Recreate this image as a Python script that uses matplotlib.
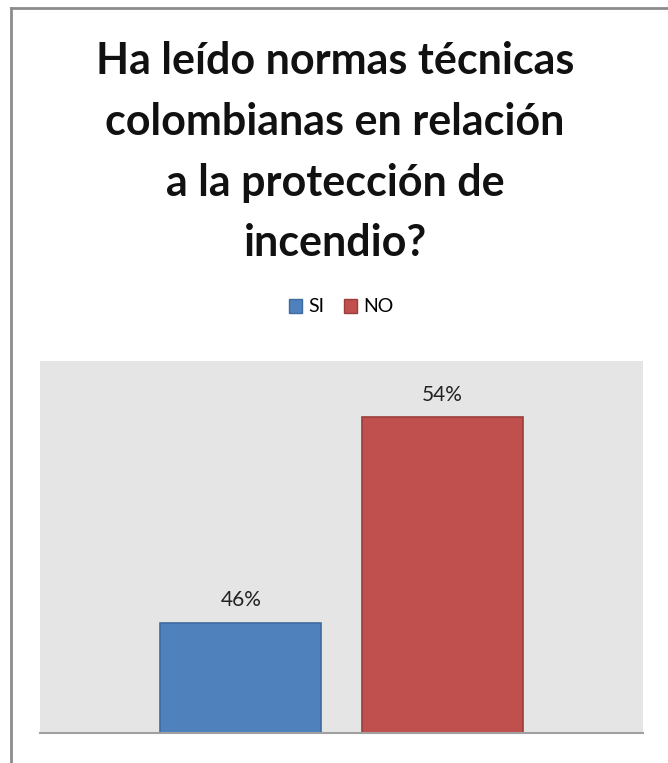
import matplotlib.pyplot as plt
from matplotlib.lines import Line2D
from matplotlib.patches import Patch

# =====================
# DATA
# =====================
series = ["SI", "NO"]
values = [46, 54]
labels = ["46%", "54%"]
colors = ["#4F81BD", "#C0504D"]
edges = ["#3E6BA0", "#9A3E3B"]

title = "Ha leído normas técnicas\ncolombianas en relación\na la protección de\nincendio?"

W, H = 668, 763
fig = plt.figure(figsize=(W / 100, H / 100), dpi=100)
plt.rcParams['font.family'] = ['Lato', 'DejaVu Sans']

# outer chart frame (only left + top visible in crop)
fig.add_artist(Line2D([11 / W, 11 / W], [0, 1 - 8 / H], color="#8C8C8C", lw=2))
fig.add_artist(Line2D([11 / W, 1], [1 - 8 / H, 1 - 8 / H], color="#8C8C8C", lw=2))

# plot area in pixels: x 40..643, y 361..733
ax = fig.add_axes([40 / W, 1 - 733 / H, (643 - 40) / W, (733 - 361) / H])
ax.set_facecolor("#E5E5E5")

pos = [-0.1667, 0.1667]
bars = ax.bar(pos, values, width=0.267, color=colors, edgecolor=edges, linewidth=1.2, zorder=2)
for b, lab in zip(bars, labels):
    ax.text(b.get_x() + b.get_width() / 2, b.get_height() + 0.5, lab,
            ha="center", va="bottom", fontsize=15, color="#222222")

ax.set_xlim(-0.5, 0.5)
ax.set_ylim(41.7, 56.2)
ax.set_xticks([])
ax.set_yticks([])
for s in ["left", "right", "top"]:
    ax.spines[s].set_visible(False)
ax.spines["bottom"].set_color("#A0A0A0")
ax.spines["bottom"].set_linewidth(1.5)

fig.text(335 / W, 1 - 41 / H, title, ha="center", va="top", fontsize=31,
         fontweight="bold", linespacing=1.63, color="#111111")

handles = [Patch(facecolor=c, edgecolor=e, label=s) for s, c, e in zip(series, colors, edges)]
fig.legend(handles=handles, loc="center", bbox_to_anchor=(341 / W, 1 - 307 / H), ncol=2,
           frameon=False, fontsize=14, handlelength=0.7, handleheight=0.7,
           handletextpad=0.3, columnspacing=1.0)

fig.savefig("out.png", dpi=100)
